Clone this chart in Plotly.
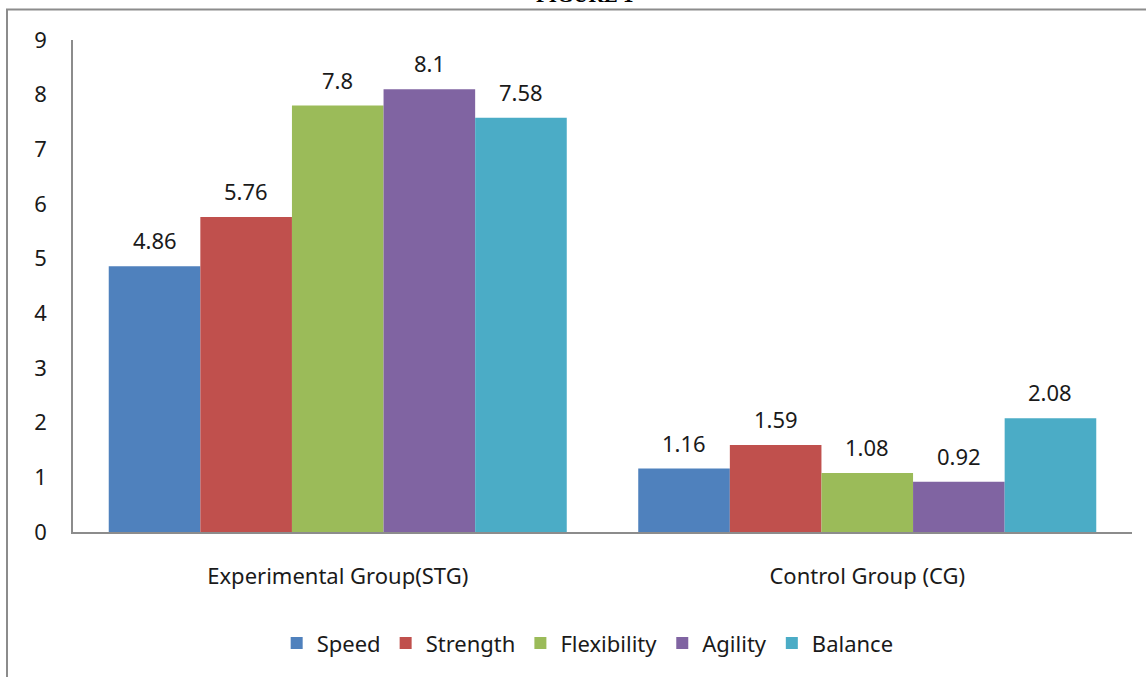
import plotly.graph_objects as go

categories = ["Experimental Group(STG)", "Control Group (CG)"]
series_names = ["Speed", "Strength", "Flexibility", "Agility", "Balance"]
speed = [4.86, 1.16]
strength = [5.76, 1.59]
flexibility = [7.8, 1.08]
agility = [8.1, 0.92]
balance = [7.58, 2.08]
values = [speed, strength, flexibility, agility, balance]
colors = ["#4F81BD", "#C0504D", "#9BBB59", "#8064A2", "#4BACC6"]
y_ticks = [0, 1, 2, 3, 4, 5, 6, 7, 8, 9]

W, H = 1146, 677
ML, MR, MT, MB = 73, 14, 40, 145
plot_w = W - ML - MR
bargap = 0.135
bar_px = plot_w / len(categories) * (1 - bargap) / len(series_names)

FONT = "Noto Sans"
FS = 22
TXT = "#1a1a1a"

fig = go.Figure()
annotations = []
for i, (name, vals, col) in enumerate(zip(series_names, values, colors)):
    fig.add_trace(go.Bar(name=name, x=categories, y=vals, marker_color=col,
                         marker_line_width=0))
    for c, v in zip(categories, vals):
        annotations.append(dict(x=c, y=v, xref="x", yref="y", text=f"{v:g}",
                                showarrow=False, yanchor="bottom",
                                xshift=(i - 2) * bar_px, yshift=9,
                                font=dict(family=FONT, size=FS, color=TXT)))

annotations.append(dict(x=0.483, y=1, xref="paper", yref="paper", text="<b>FIGURE 1</b>",
                        showarrow=False, yanchor="bottom", yshift=31,
                        font=dict(family="Liberation Serif", size=21, color="#000")))

fig.update_layout(
    width=W, height=H,
    margin=dict(l=ML, r=MR, t=MT, b=MB),
    paper_bgcolor="white", plot_bgcolor="white",
    barmode="group", bargap=bargap, bargroupgap=0,
    font=dict(family=FONT, size=FS, color=TXT),
    showlegend=True,
    legend=dict(orientation="h", x=0.486, xanchor="center", y=-0.226, yanchor="middle",
                font=dict(family=FONT, size=FS, color=TXT), itemwidth=30,
                traceorder="normal"),
    annotations=annotations,
    shapes=[dict(type="rect", xref="paper", yref="paper",
                 x0=(7 - ML) / plot_w, x1=1.2, y0=-1, y1=1 + (MT - 9.5) / (H - MT - MB),
                 line=dict(color="#8c8c8c", width=2), fillcolor="rgba(0,0,0,0)", layer="below")],
)
fig.update_xaxes(showline=True, linecolor="#8c8c8c", linewidth=1.5, showgrid=False,
                 ticks="", ticklabelstandoff=24, tickfont=dict(family=FONT, size=FS, color=TXT))
fig.update_yaxes(range=[0, 9], tickvals=y_ticks, showline=True, linecolor="#8c8c8c",
                 linewidth=1.5, showgrid=False, zeroline=False, ticks="",
                 ticklabelstandoff=20, tickfont=dict(family=FONT, size=FS, color=TXT))

fig.write_html("out.html", config={"displayModeBar": False},
               post_script="document.body.style.margin='0';")
